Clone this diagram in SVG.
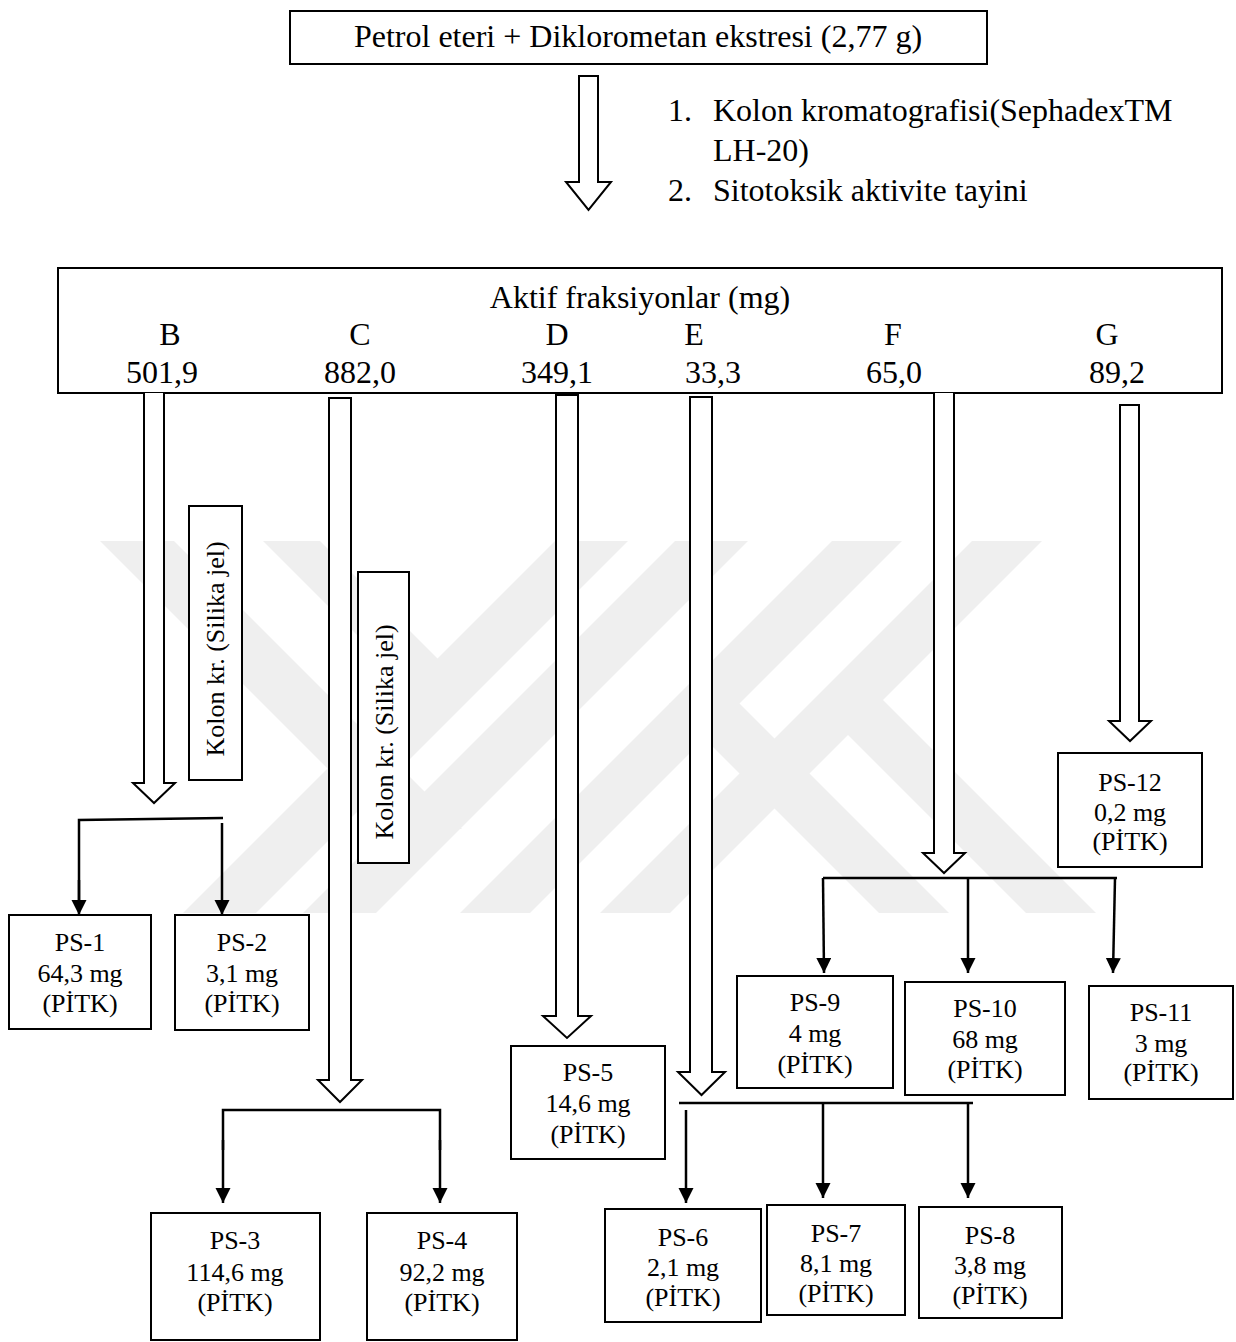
<svg xmlns="http://www.w3.org/2000/svg" width="1236" height="1342" viewBox="0 0 1236 1342">
  <style>
    .t { font-family: "Liberation Serif", "Times New Roman", serif; fill: #000; }
    .big { font-size: 32px; }
    .sm { font-size: 26px; text-anchor: middle; }
    .box { fill: #fff; stroke: #000; stroke-width: 2; }
    .hollow { fill: #fff; stroke: #000; stroke-width: 2; stroke-linejoin: miter; }
    .link { fill: none; stroke: #000; stroke-width: 2.5; }
    .wm { fill: #efefef; }
  </style>
  <defs>
    <marker id="tri" markerUnits="userSpaceOnUse" markerWidth="16" markerHeight="16" refX="15" refY="7.5" orient="auto">
      <path d="M0,0 L15,7.5 L0,15 Z" fill="#000"/>
    </marker>
    <clipPath id="wmClip">
      <rect x="0" y="541" width="1236" height="372"/>
    </clipPath>
  </defs>

  <rect width="1236" height="1342" fill="#fff"/>

  <!-- faint background emblem -->
  <g id="emblem" class="wm" clip-path="url(#wmClip)">
    <polygon points="555,541 628,541 256,913 183,913"/>
    <polygon points="675,541 748,541 376,913 303,913"/>
    <polygon points="100,541 174,541 462,829 388,829"/>
    <polygon points="263,541 320,541 470,691 413,691"/>
    <polygon points="832,541 902,541 530,913 460,913"/>
    <polygon points="972,541 1042,541 670,913 600,913"/>
    <polygon points="669,703 739,703 949,913 879,913"/>
    <polygon points="813,700 883,700 1096,913 1026,913"/>
  </g>

  <!-- top extract -->
  <g id="extract">
    <rect class="box" x="290" y="11" width="697" height="53"/>
    <text class="t big" x="638" y="47" text-anchor="middle">Petrol eteri + Diklorometan ekstresi (2,77 g)</text>
  </g>

  <!-- procedure list -->
  <g id="steps">
    <text class="t big" x="668" y="121">1.</text>
    <text class="t big" x="713" y="121">Kolon kromatografisi(SephadexTM</text>
    <text class="t big" x="713" y="161">LH-20)</text>
    <text class="t big" x="668" y="201">2.</text>
    <text class="t big" x="713" y="201">Sitotoksik aktivite tayini</text>
  </g>

  <!-- active fractions -->
  <g id="fractions">
    <rect class="box" x="58" y="268" width="1164" height="125"/>
    <text class="t big" x="640" y="308" text-anchor="middle">Aktif fraksiyonlar (mg)</text>
    <g text-anchor="middle">
      <text class="t big" x="170" y="345">B</text>
      <text class="t big" x="360" y="345">C</text>
      <text class="t big" x="557" y="345">D</text>
      <text class="t big" x="694" y="345">E</text>
      <text class="t big" x="893" y="345">F</text>
      <text class="t big" x="1107" y="345">G</text>
      <text class="t big" x="162" y="383">501,9</text>
      <text class="t big" x="360" y="383">882,0</text>
      <text class="t big" x="557" y="383">349,1</text>
      <text class="t big" x="713" y="383">33,3</text>
      <text class="t big" x="894" y="383">65,0</text>
      <text class="t big" x="1117" y="383">89,2</text>
    </g>
  </g>

  <!-- column chromatography labels -->
  <g id="kolon-b">
    <rect class="box" x="189" y="506" width="53" height="274"/>
    <text class="t sm" transform="translate(224,649) rotate(-90)">Kolon kr. (Silika jel)</text>
  </g>
  <g id="kolon-c">
    <rect class="box" x="358" y="572" width="51" height="291"/>
    <text class="t sm" transform="translate(393,732) rotate(-90)">Kolon kr. (Silika jel)</text>
  </g>

  <!-- connectors -->
  <g id="connectors">
    <!-- block arrows -->
    <path class="hollow" d="M579,76 L598,76 L598,182 L611,182 L588.5,210 L566,182 L579,182 Z"/>
    <path class="hollow" d="M144,393 L144,783 L133,783 L154,803 L175,783 L164,783 L164,393"/>
    <path class="hollow" d="M329,398 L351,398 L351,1080 L362,1080 L340,1102 L318,1080 L329,1080 Z"/>
    <path class="hollow" d="M556,395 L578,395 L578,1016 L591,1016 L567,1038 L543,1016 L556,1016 Z"/>
    <path class="hollow" d="M690,397 L712,397 L712,1072 L725,1072 L701.5,1095 L678,1072 L690,1072 Z"/>
    <path class="hollow" d="M934,393 L934,853 L923,853 L944,873 L965,853 L954,853 L954,393"/>
    <path class="hollow" d="M1120,405 L1139,405 L1139,721 L1151,721 L1130,741 L1109,721 L1120,721 Z"/>

    <!-- B split -->
    <path class="link" d="M79,900 L79,820 L223,818"/>
    <line class="link" x1="79" y1="880" x2="79" y2="915" marker-end="url(#tri)"/>
    <line class="link" x1="222" y1="823" x2="222" y2="915" marker-end="url(#tri)"/>

    <!-- C split -->
    <path class="link" d="M223,1150 L223,1110 L440,1110 L440,1150"/>
    <line class="link" x1="223" y1="1140" x2="223" y2="1203" marker-end="url(#tri)"/>
    <line class="link" x1="440" y1="1140" x2="440" y2="1203" marker-end="url(#tri)"/>

    <!-- E split -->
    <line class="link" x1="679" y1="1103" x2="973" y2="1103"/>
    <line class="link" x1="686" y1="1110" x2="686" y2="1203" marker-end="url(#tri)"/>
    <line class="link" x1="823" y1="1103" x2="823" y2="1198" marker-end="url(#tri)"/>
    <line class="link" x1="968" y1="1103" x2="968" y2="1198" marker-end="url(#tri)"/>

    <!-- F split -->
    <line class="link" x1="823" y1="878" x2="1117" y2="878"/>
    <line class="link" x1="823" y1="878" x2="824" y2="973" marker-end="url(#tri)"/>
    <line class="link" x1="968" y1="878" x2="968" y2="973" marker-end="url(#tri)"/>
    <line class="link" x1="1115" y1="878" x2="1113" y2="973" marker-end="url(#tri)"/>
  </g>

  <!-- products -->
  <g id="ps-1">
    <rect class="box" x="9" y="915" width="142" height="114"/>
    <text class="t sm" x="80" y="951">PS-1</text>
    <text class="t sm" x="80" y="982">64,3 mg</text>
    <text class="t sm" x="80" y="1012">(PİTK)</text>
  </g>
  <g id="ps-2">
    <rect class="box" x="175" y="915" width="134" height="115"/>
    <text class="t sm" x="242" y="951">PS-2</text>
    <text class="t sm" x="242" y="982">3,1 mg</text>
    <text class="t sm" x="242" y="1012">(PİTK)</text>
  </g>
  <g id="ps-3">
    <rect class="box" x="151" y="1213" width="169" height="127"/>
    <text class="t sm" x="235" y="1249">PS-3</text>
    <text class="t sm" x="235" y="1281">114,6 mg</text>
    <text class="t sm" x="235" y="1311">(PİTK)</text>
  </g>
  <g id="ps-4">
    <rect class="box" x="367" y="1213" width="150" height="127"/>
    <text class="t sm" x="442" y="1249">PS-4</text>
    <text class="t sm" x="442" y="1281">92,2 mg</text>
    <text class="t sm" x="442" y="1311">(PİTK)</text>
  </g>
  <g id="ps-5">
    <rect class="box" x="511" y="1046" width="154" height="113"/>
    <text class="t sm" x="588" y="1081">PS-5</text>
    <text class="t sm" x="588" y="1112">14,6 mg</text>
    <text class="t sm" x="588" y="1143">(PİTK)</text>
  </g>
  <g id="ps-6">
    <rect class="box" x="605" y="1209" width="156" height="113"/>
    <text class="t sm" x="683" y="1246">PS-6</text>
    <text class="t sm" x="683" y="1276">2,1 mg</text>
    <text class="t sm" x="683" y="1306">(PİTK)</text>
  </g>
  <g id="ps-7">
    <rect class="box" x="767" y="1205" width="138" height="110"/>
    <text class="t sm" x="836" y="1242">PS-7</text>
    <text class="t sm" x="836" y="1272">8,1 mg</text>
    <text class="t sm" x="836" y="1302">(PİTK)</text>
  </g>
  <g id="ps-8">
    <rect class="box" x="919" y="1207" width="143" height="111"/>
    <text class="t sm" x="990" y="1244">PS-8</text>
    <text class="t sm" x="990" y="1274">3,8 mg</text>
    <text class="t sm" x="990" y="1304">(PİTK)</text>
  </g>
  <g id="ps-9">
    <rect class="box" x="737" y="976" width="156" height="112"/>
    <text class="t sm" x="815" y="1011">PS-9</text>
    <text class="t sm" x="815" y="1042">4 mg</text>
    <text class="t sm" x="815" y="1073">(PİTK)</text>
  </g>
  <g id="ps-10">
    <rect class="box" x="905" y="982" width="160" height="113"/>
    <text class="t sm" x="985" y="1017">PS-10</text>
    <text class="t sm" x="985" y="1048">68 mg</text>
    <text class="t sm" x="985" y="1078">(PİTK)</text>
  </g>
  <g id="ps-11">
    <rect class="box" x="1089" y="986" width="144" height="113"/>
    <text class="t sm" x="1161" y="1021">PS-11</text>
    <text class="t sm" x="1161" y="1052">3 mg</text>
    <text class="t sm" x="1161" y="1081">(PİTK)</text>
  </g>
  <g id="ps-12">
    <rect class="box" x="1058" y="753" width="144" height="114"/>
    <text class="t sm" x="1130" y="791">PS-12</text>
    <text class="t sm" x="1130" y="821">0,2 mg</text>
    <text class="t sm" x="1130" y="850">(PİTK)</text>
  </g>
</svg>
